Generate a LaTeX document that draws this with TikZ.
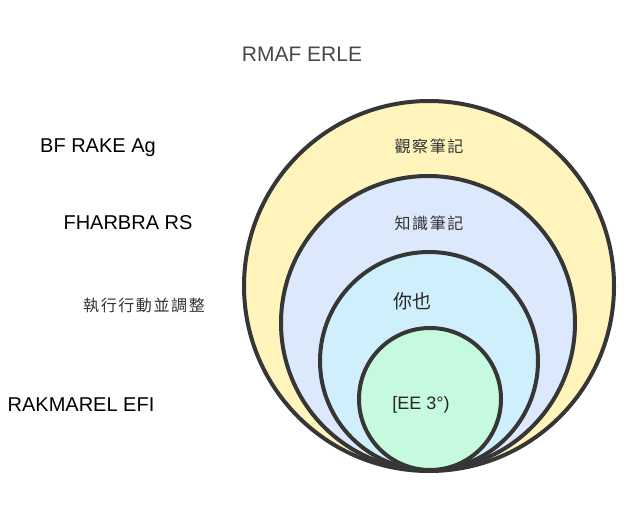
\documentclass[tikz,border=0pt]{standalone}
\usepackage{fontspec}
\setmainfont{Liberation Sans}
\newfontfamily\cjk{Noto Sans CJK TC}
\newfontfamily\cjksp[LetterSpace=10]{Noto Sans CJK TC}
\definecolor{ringgray}{HTML}{363636}
\definecolor{fillA}{HTML}{FFF5BC}
\definecolor{fillB}{HTML}{DCE8FB}
\definecolor{fillC}{HTML}{CFEFFD}
\definecolor{fillD}{HTML}{C6FADF}
\definecolor{titlegray}{HTML}{484848}
\definecolor{cjkgray}{HTML}{333333}
\begin{document}
\begin{tikzpicture}[x=1pt,y=-1pt,
  ring/.style={draw=ringgray, line width=4pt, circle, inner sep=0pt},
  sidelabel/.style={inner sep=0pt, font=\fontsize{20}{24}\selectfont, text=black},
  cjklabel/.style={inner sep=0pt, font=\cjksp\fontsize{16}{20}\selectfont, text=cjkgray}]
\useasboundingbox (0,0) rectangle (639,519);
\node[ring, fill=fillA, minimum size=370pt] (c1) at (429,286) {};
\node[ring, fill=fillB, minimum size=294pt] (c2) at (428,323) {};
\node[ring, fill=fillC, minimum size=218pt] (c3) at (429,361) {};
\node[ring, fill=fillD, minimum size=142pt] (c4) at (430,399) {};
\node[inner sep=0pt, font=\fontsize{21}{25}\selectfont, text=titlegray] (title) at (302,54) {RMAF ERLE};
\node[sidelabel] (l1) at (98,148) {BF RAKE Ag};
\node[sidelabel] (l2) at (128,223) {FHARBRA RS};
\node[cjklabel] (l3) at (144,305) {執行行動並調整};
\node[sidelabel] (l4) at (81,405) {RAKMAREL EFI};
\node[cjklabel] (t1) at (429,146) {觀察筆記};
\node[cjklabel] (t2) at (429,223) {知識筆記};
\node[inner sep=0pt, font=\cjk\fontsize{19}{23}\selectfont, text=black!85] (t3) at (412,301) {你也};
\node[inner sep=0pt, font=\fontsize{18}{22}\selectfont, text=black!85] (t4) at (421,405) {[EE 3°)};
\end{tikzpicture}
\end{document}
